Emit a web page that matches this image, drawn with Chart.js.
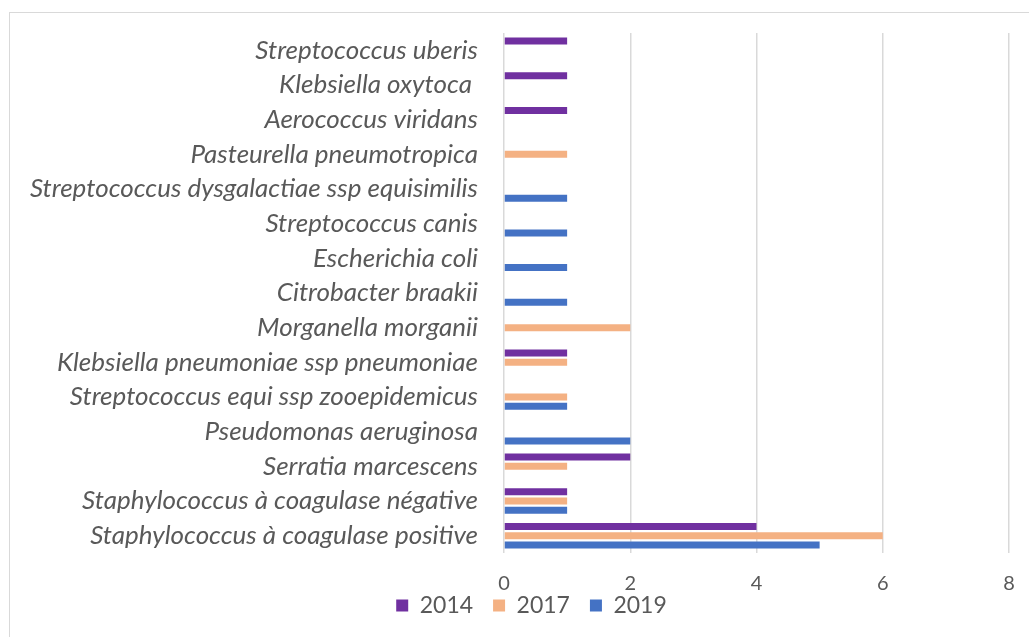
<!DOCTYPE html>
<html>
<head>
<meta charset="utf-8">
<script src="https://cdn.jsdelivr.net/npm/chart.js@4"></script>
<style>
html, body { margin: 0; padding: 0; background: #fff; }
#wrap { position: relative; width: 1029px; height: 637px; overflow: hidden; }
#frame { position: absolute; left: 9px; top: 12px; width: 1060px; height: 680px; border: 1.5px solid #d9d9d9; }
#chart { position: absolute; left: 0; top: 0; }
</style>
</head>
<body>
<div id="wrap">
	<div id="frame"></div>
	<canvas id="chart" width="1029" height="637"></canvas>
</div>
<script>
	// categories listed top to bottom, as in the picture
	var bacteria = [
		'Streptococcus uberis',
		'Klebsiella oxytoca ',
		'Aerococcus viridans',
		'Pasteurella pneumotropica',
		'Streptococcus dysgalactiae ssp equisimilis',
		'Streptococcus canis',
		'Escherichia coli',
		'Citrobacter braakii',
		'Morganella morganii',
		'Klebsiella pneumoniae ssp pneumoniae',
		'Streptococcus equi ssp zooepidemicus',
		'Pseudomonas aeruginosa',
		'Serratia marcescens',
		'Staphylococcus à coagulase négative',
		'Staphylococcus à coagulase positive'
	];

	var years = ['2014', '2017', '2019'];

	var values2014 = [1, 1, 1, 0, 0, 0, 0, 0, 0, 1, 0, 0, 2, 1, 4];
	var values2017 = [0, 0, 0, 1, 0, 0, 0, 0, 2, 1, 1, 0, 1, 1, 6];
	var values2019 = [0, 0, 0, 0, 1, 1, 1, 1, 0, 0, 1, 2, 0, 1, 5];

	var xTicks = [0, 2, 4, 6, 8];

	var colors = ['#7030a0', '#f4b183', '#4472c4'];
	var textColor = '#595959';
	var fontFamily = 'Lato, "Open Sans", sans-serif';

	var allValues = [values2014, values2017, values2019];
	var datasets = years.map(function (y, i) {
		return {
			label: y,
			data: allValues[i],
			backgroundColor: colors[i],
			borderWidth: 0,
			categoryPercentage: 0.8,
			barPercentage: 0.75
		};
	});

	// the legend sits closer to the axis and a bit right of centre in the original
	var legendNudge = {
		id: 'legendNudge',
		afterLayout: function (chart) {
			var lg = chart.legend;
			lg.top -= 21;
			lg.bottom -= 21;
			lg.left += 27;
			lg.right += 27;
		}
	};

	new Chart(document.getElementById('chart'), {
		type: 'bar',
		data: {
			labels: bacteria,
			datasets: datasets
		},
		plugins: [legendNudge],
		options: {
			indexAxis: 'y',
			responsive: false,
			animation: false,
			layout: {
				padding: { top: 33, right: 20, bottom: 0, left: 0 }
			},
			scales: {
				x: {
					min: xTicks[0],
					max: xTicks[xTicks.length - 1],
					afterBuildTicks: function (scale) {
						scale.ticks = xTicks.map(function (v) { return { value: v }; });
					},
					afterFit: function (scale) {
						scale.height = 42;
						scale.paddingLeft = 0;
						scale.paddingRight = 0;
					},
					grid: {
						color: '#d9d9d9',
						lineWidth: 1.5,
						drawTicks: false
					},
					border: { display: false },
					ticks: {
						padding: 19,
						color: textColor,
						font: { family: fontFamily, size: 20 }
					}
				},
				y: {
					afterFit: function (scale) {
						scale.width = 504;
						scale.paddingTop = 0;
						scale.paddingBottom = 0;
					},
					grid: { display: false, drawTicks: false },
					border: { display: false },
					ticks: {
						padding: 26,
						autoSkip: false,
						color: textColor,
						font: { family: fontFamily, size: 26, style: 'italic' }
					}
				}
			},
			plugins: {
				tooltip: { enabled: false },
				legend: {
					position: 'bottom',
					maxHeight: 42,
					labels: {
						boxWidth: 12,
						boxHeight: 12,
						padding: 20,
						color: textColor,
						font: { family: fontFamily, size: 23 }
					}
				}
			}
		}
	});
</script>
</body>
</html>
